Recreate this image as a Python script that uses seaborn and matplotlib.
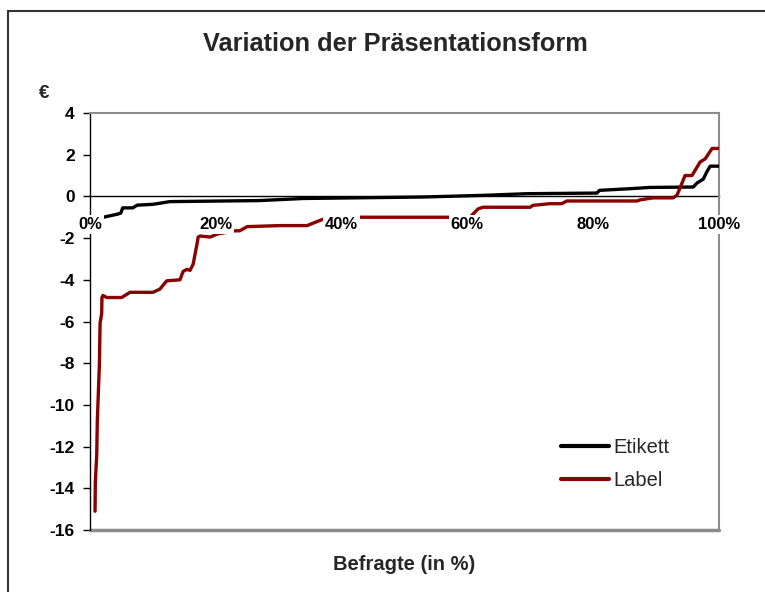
import numpy as np
import pandas as pd
import matplotlib
matplotlib.use('Agg')
import matplotlib.pyplot as plt
import seaborn as sns
from matplotlib.patches import Rectangle

sns.set_style("white")
plt.rcParams['font.family'] = ['Liberation Sans', 'DejaVu Sans']

# Daten
etikett_x = [2.1, 4.4, 4.9, 5.2, 6.8, 7.5, 10.0, 12.7, 27.0, 33.9, 52.8, 62.5, 69.5,
             80.6, 81.0, 85.9, 89.0, 95.9, 96.5, 97.5, 98.1, 98.6, 100.0]
etikett_y = [-1.0, -0.85, -0.8, -0.55, -0.55, -0.42, -0.38, -0.25, -0.2, -0.1, -0.03, 0.05, 0.13,
             0.16, 0.29, 0.37, 0.43, 0.45, 0.64, 0.83, 1.2, 1.45, 1.45]

label_x = [0.8, 0.85, 1.07, 1.16, 1.5, 1.6, 1.86, 1.9, 2.07, 2.65, 5.04, 6.36, 10.0, 11.1, 12.2,
           14.3, 14.8, 15.4, 15.9, 16.4, 17.0, 17.2, 17.5, 19.1, 20.3, 23.1, 23.8, 25.0, 30.2,
           34.5, 37.0, 42.9, 57.2, 60.4, 61.7, 62.5, 70.0, 70.4, 73.1, 75.0, 75.8, 87.0, 87.4,
           89.5, 92.7, 93.3, 93.8, 94.6, 95.7, 96.2, 97.0, 97.8, 98.9, 100.0]
label_y = [-15.1, -13.7, -12.4, -10.8, -8.0, -6.1, -5.6, -4.85, -4.75, -4.85, -4.85, -4.6, -4.6,
           -4.45, -4.05, -4.0, -3.6, -3.5, -3.55, -3.25, -2.3, -1.95, -1.9, -1.95, -1.8, -1.65,
           -1.65, -1.45, -1.4, -1.4, -1.1, -1.0, -1.0, -1.0, -0.6, -0.52, -0.52, -0.43, -0.35,
           -0.35, -0.22, -0.22, -0.17, -0.07, -0.07, 0.05, 0.4, 1.0, 1.0, 1.25, 1.65, 1.8, 2.3, 2.3]

x_ticks = [0, 20, 40, 60, 80, 100]
x_tick_labels = ['0%', '20%', '40%', '60%', '80%', '100%']
y_ticks = [4, 2, 0, -2, -4, -6, -8, -10, -12, -14, -16]

df_e = pd.DataFrame({'x': etikett_x, 'y': etikett_y})
df_l = pd.DataFrame({'x': label_x, 'y': label_y})

W, H = 765, 592
fig = plt.figure(figsize=(W / 100, H / 100), dpi=100)
ax = fig.add_axes([90 / W, 1 - 530 / H, (719 - 90) / W, (530 - 113) / H])

sns.lineplot(data=df_e, x='x', y='y', ax=ax, color='black', lw=2.4, label='Etikett',
             estimator=None, sort=False, zorder=3)
sns.lineplot(data=df_l, x='x', y='y', ax=ax, color='#8B0000', lw=2.4, label='Label',
             estimator=None, sort=False, zorder=3)

# Rahmen (vor den Tick-Labels, weil set_position die Ticks zuruecksetzt)
ax.spines['bottom'].set_position(('data', 0))
ax.spines['bottom'].set_color('black')
ax.spines['bottom'].set_linewidth(1.0)
ax.spines['bottom'].set_zorder(2)
ax.spines['left'].set_color('black')
ax.spines['left'].set_linewidth(1.0)
for s in ['top', 'right']:
    ax.spines[s].set_color('#8c8c8c')
    ax.spines[s].set_linewidth(1.5)
ax.axhline(-16, color='#8c8c8c', lw=2.5, clip_on=False, zorder=2)

ax.set_xlim(0, 100)
ax.set_ylim(-16, 4)
ax.set_xticks(x_ticks)
ax.set_xticklabels(x_tick_labels, fontsize=12, fontweight='bold')
ax.set_yticks(y_ticks)
ax.set_yticklabels([str(v) for v in y_ticks], fontsize=12.5, fontweight='bold')
ax.set_xlabel('')
ax.set_ylabel('')

ax.tick_params(axis='x', direction='inout', length=10, width=1, pad=10, colors='black')
ax.tick_params(axis='y', direction='out', length=5, width=1, pad=6, colors='black', left=True)
ax.xaxis.set_zorder(4)
for t in ax.get_xticklabels():
    t.set_bbox(dict(facecolor='white', edgecolor='none', pad=1.5))

leg = ax.legend(loc='upper left', bbox_to_anchor=(561 / W, 1 - 438 / H),
                bbox_transform=fig.transFigure, frameon=False, fontsize=14.5,
                handlelength=2.4, handletextpad=0.2, labelspacing=0.7,
                borderpad=0, borderaxespad=0)
for line in leg.get_lines():
    line.set_linewidth(3)

fig.text(395 / W, 1 - 44 / H, 'Variation der Präsentationsform', ha='center', va='center',
         fontsize=18.3, fontweight='bold')
fig.text(44 / W, 1 - 94 / H, '€', ha='center', va='center', fontsize=13.5, fontweight='bold')
fig.text(404 / W, 1 - 564 / H, 'Befragte (in %)', ha='center', va='center',
         fontsize=14.5, fontweight='bold')

fig.patches.append(Rectangle((8 / W, -0.1), 1.2, 1 - 11 / H + 0.1, transform=fig.transFigure,
                             fill=False, edgecolor='#333333', lw=1.5))

fig.savefig('out.png', dpi=100)
